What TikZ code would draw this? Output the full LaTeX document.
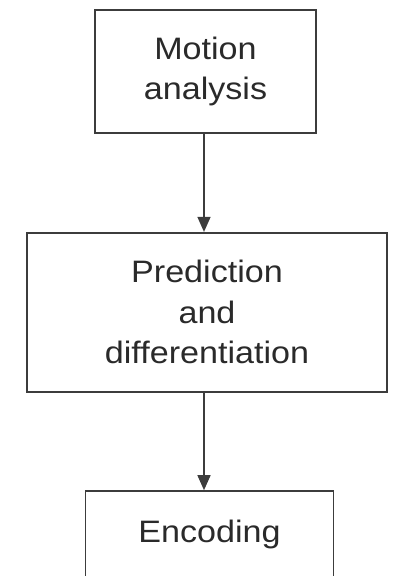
\documentclass[tikz,border=0pt]{standalone}
\usepackage{fontspec}
\setmainfont[FakeStretch=1.1]{Liberation Sans}
\usetikzlibrary{arrows.meta}
\definecolor{linegray}{HTML}{3C3C3C}
\definecolor{textgray}{HTML}{2A2A2A}
\begin{document}
\begin{tikzpicture}[x=1pt,y=-1pt,
  boxnode/.style={draw=linegray, line width=1.6pt, rectangle, inner sep=0pt,
    align=center, text=textgray, font=\fontsize{31}{40.5}\selectfont},
  flowarrow/.style={draw=linegray, line width=1.4pt,
    -{Triangle[length=15pt,width=13pt]}}]
\useasboundingbox (0,0) rectangle (396,576);
\node[boxnode, minimum width=221pt, minimum height=123pt] (motion) at (205.5,71.5) {Motion\\analysis};
\node[boxnode, minimum width=360pt, minimum height=159pt] (pred) at (207,312.2) {Prediction\\and\\differentiation};
\node[boxnode, minimum width=248pt, minimum height=86pt] (enc) at (209.5,534) {Encoding};
\coordinate (ax) at (204,0);
\draw[flowarrow] (motion.south -| ax) -- (pred.north -| ax);
\draw[flowarrow] (pred.south -| ax) -- (enc.north -| ax);
\end{tikzpicture}
\end{document}
